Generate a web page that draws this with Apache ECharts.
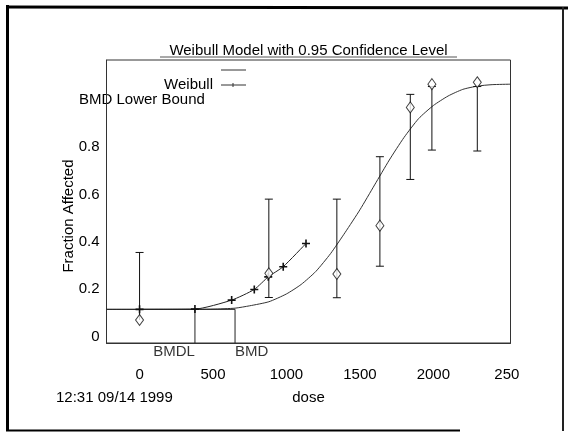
<!DOCTYPE html>
<html>
<head>
  <meta charset="utf-8">
  <title>Weibull Model</title>
  <script src="https://cdn.jsdelivr.net/npm/echarts@6/dist/echarts.min.js"></script>
</head>
<body style="margin:0">
  <div id="container" style="height: 432px; width: 568px"></div>
  <script>
    // observed dose groups, fraction affected and the 95% bars
    var doses = [0, 880, 1343, 1636, 1843, 1990, 2299];
    var observed = [0.070, 0.267, 0.264, 0.468, 0.967, 1.065, 1.073];
    var lower = [0.070, 0.165, 0.164, 0.297, 0.663, 0.787, 0.783];
    var upper = [0.355, 0.580, 0.580, 0.759, 1.022, 1.055, 1.055];

    // fitted weibull curve
    var fitDose = [-225, 300, 500, 650, 750, 880, 1000, 1100, 1200, 1300, 1400, 1500,
                   1600, 1700, 1800, 1900, 2000, 2100, 2200, 2300, 2400, 2525];
    var fitResp = [0.115, 0.115, 0.116, 0.12, 0.13, 0.147, 0.18, 0.22, 0.275, 0.35, 0.44, 0.535,
                   0.64, 0.745, 0.84, 0.92, 0.975, 1.015, 1.043, 1.057, 1.063, 1.065];

    // lower bound curve (with + marks)
    var lbDose = [0, 377, 627, 781, 876, 978, 1133];
    var lbResp = [0.115, 0.116, 0.154, 0.199, 0.252, 0.295, 0.393];

    var bmdl = 377, bmd = 650, bgLevel = 0.115;
    var xTicks = [0, 500, 1000, 1500, 2000, 2500];
    var yTicks = [0, 0.2, 0.4, 0.6, 0.8];
    var xMin = -225, xMax = 2525, yMin = -0.027, yMax = 1.167;

    var font = "'Liberation Sans', Arial, sans-serif";
    var plus = 'path://M4,0h2v4h4v2h-4v4h-2v-4h-4v-2h4z';

    var dom = document.getElementById('container');
    var myChart = echarts.init(dom);

    var fitData = fitDose.map((d, i) => [d, fitResp[i]]);
    var lbData = lbDose.map((d, i) => [d, lbResp[i]]);
    var obsData = doses.map((d, i) => [d, observed[i]]);
    var barData = doses.map((d, i) => [d, lower[i], upper[i], i == 0 ? 0 : 1]);

    option = {
      animation: false,
      grid: {
        left: 106.5, right: 57.5, top: 60, bottom: 89,
        show: true, borderColor: '#333', borderWidth: 1,
        outerBoundsMode: 'none'
      },
      xAxis: {
        type: 'value', min: xMin, max: xMax,
        axisLine: { show: true, onZero: false, lineStyle: { color: '#333' } },
        axisTick: { show: false },
        splitLine: { show: false },
        axisLabel: {
          customValues: xTicks, margin: 24,
          color: '#000', fontSize: 15, fontFamily: font,
          formatter: (v) => v == 2500 ? '250' : '' + v
        },
        name: 'dose', nameLocation: 'middle', nameGap: 47,
        nameTextStyle: { color: '#000', fontSize: 15, fontFamily: font }
      },
      yAxis: {
        type: 'value', min: yMin, max: yMax,
        axisLine: { show: true, onZero: false, lineStyle: { color: '#333' } },
        axisTick: { show: false },
        splitLine: { show: false },
        axisLabel: {
          customValues: yTicks, margin: 7,
          color: '#000', fontSize: 15, fontFamily: font
        }
      },
      series: [
        {
          type: 'line', data: fitData, smooth: 0.2, showSymbol: false,
          lineStyle: { color: '#333', width: 1 }, z: 2
        },
        {
          type: 'line', data: lbData, smooth: 0.2,
          symbol: plus, symbolSize: 8,
          itemStyle: { color: '#111' },
          lineStyle: { color: '#222', width: 1 }, z: 3
        },
        {
          // background level out to BMD, and the BMD / BMDL drops
          type: 'line', showSymbol: false,
          data: [[xMin, bgLevel], [bmd, bgLevel], [bmd, yMin]],
          lineStyle: { color: '#222', width: 1 }, z: 3
        },
        {
          type: 'line', showSymbol: false,
          data: [[bmdl, bgLevel], [bmdl, yMin]],
          lineStyle: { color: '#222', width: 1 }, z: 3
        },
        {
          type: 'custom', z: 4,
          data: barData,
          renderItem: function (params, api) {
            var lo = api.coord([api.value(0), api.value(1)]);
            var hi = api.coord([api.value(0), api.value(2)]);
            var c = { stroke: '#111', lineWidth: 1 };
            var kids = [
              { type: 'line', shape: { x1: lo[0], y1: lo[1], x2: hi[0], y2: hi[1] }, style: c },
              { type: 'line', shape: { x1: hi[0] - 4, y1: hi[1], x2: hi[0] + 4, y2: hi[1] }, style: c }
            ];
            if (api.value(3)) {
              kids.push({ type: 'line', shape: { x1: lo[0] - 4, y1: lo[1], x2: lo[0] + 4, y2: lo[1] }, style: c });
            }
            return { type: 'group', children: kids };
          }
        },
        {
          type: 'scatter', data: obsData, symbol: 'diamond', symbolSize: [8, 11],
          itemStyle: { color: '#fff', borderColor: '#111', borderWidth: 1 }, z: 5
        },
        {
          type: 'scatter', symbolSize: 0, silent: true, z: 5,
          data: [
            { value: [bmdl, yMin], label: { formatter: 'BMDL', align: 'right', offset: [0, 9] } },
            { value: [bmd, yMin], label: { formatter: 'BMD', align: 'left', offset: [0, 9] } }
          ],
          label: { show: true, position: 'inside', color: '#000', fontSize: 15, fontFamily: font }
        }
      ],
      graphic: [
        { type: 'line', shape: { x1: 7.5, y1: 5, x2: 7.5, y2: 431 }, style: { stroke: '#000', lineWidth: 3 } },
        { type: 'line', shape: { x1: 6, y1: 7, x2: 568, y2: 8 }, style: { stroke: '#000', lineWidth: 3 } },
        { type: 'line', shape: { x1: 6, y1: 430.5, x2: 460, y2: 430.5 }, style: { stroke: '#000', lineWidth: 2 } },
        { type: 'line', shape: { x1: 563, y1: 7, x2: 563, y2: 431 }, style: { stroke: '#222', lineWidth: 2 } },
        {
          type: 'text',
          style: { text: 'Weibull Model with 0.95 Confidence Level', x: 308.5, y: 51, textAlign: 'center', textVerticalAlign: 'middle', font: '15px ' + font, fill: '#000' }
        },
        { type: 'line', shape: { x1: 160, y1: 57, x2: 457, y2: 57 }, style: { stroke: '#555', lineWidth: 1 } },
        {
          type: 'text', rotation: Math.PI / 2, x: 69, y: 216,
          style: { text: 'Fraction Affected', x: 0, y: 0, textAlign: 'center', textVerticalAlign: 'middle', font: '15px ' + font, fill: '#000' }
        },
        // legend block
        { type: 'line', shape: { x1: 221, y1: 70, x2: 246, y2: 70 }, style: { stroke: '#333', lineWidth: 1 } },
        { type: 'line', shape: { x1: 221, y1: 85, x2: 246, y2: 85 }, style: { stroke: '#333', lineWidth: 1 } },
        { type: 'line', shape: { x1: 233, y1: 83, x2: 233, y2: 87 }, style: { stroke: '#333', lineWidth: 1 } },
        {
          type: 'text',
          style: { text: 'Weibull', x: 213, y: 85, textAlign: 'right', textVerticalAlign: 'middle', font: '15px ' + font, fill: '#000' }
        },
        {
          type: 'text',
          style: { text: 'BMD Lower Bound', x: 79, y: 100, textAlign: 'left', textVerticalAlign: 'middle', font: '15px ' + font, fill: '#000' }
        },
        {
          type: 'text',
          style: { text: '12:31 09/14 1999', x: 56, y: 398, textAlign: 'left', textVerticalAlign: 'middle', font: '15px ' + font, fill: '#000' }
        }
      ]
    };
    myChart.setOption(option);
  </script>
</body>
</html>
